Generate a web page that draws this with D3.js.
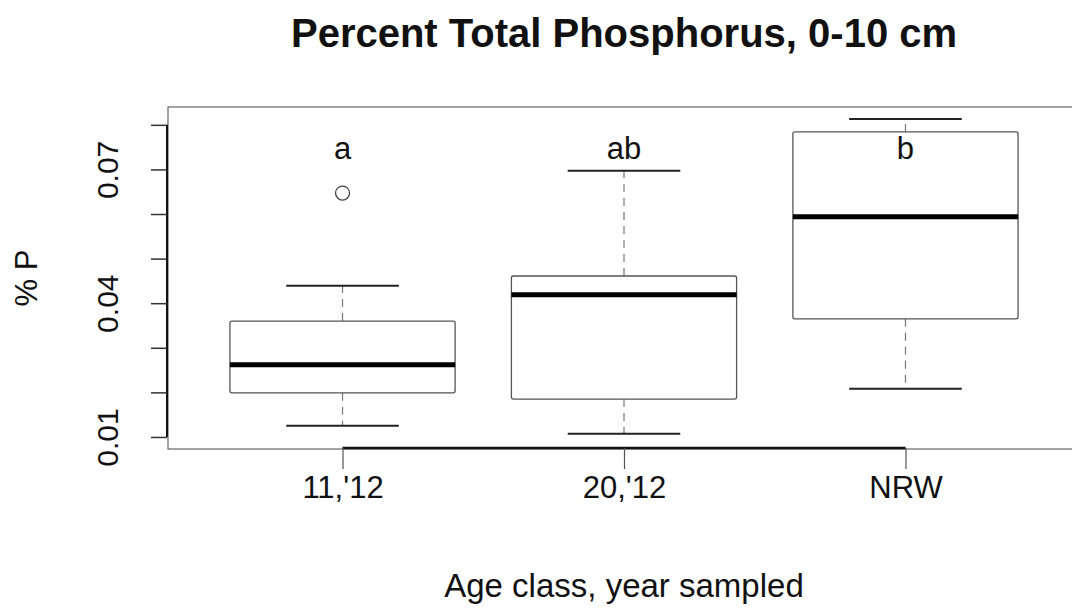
<!DOCTYPE html>
<html>
<head>
<meta charset="utf-8">
<script src="https://cdn.jsdelivr.net/npm/d3@7"></script>
<style>
  body { margin: 0; background: #fff; }
  text { font-family: "Liberation Sans", Arial, sans-serif; fill: #111; }
</style>
</head>
<body>
<svg id="chart" width="1072" height="615"></svg>
<script>
const groups = ["11,'12", "20,'12", "NRW"];
const lowWhisker = [0.0125, 0.0107, 0.0208];
const q1 = [0.0199, 0.0185, 0.0365];
const median = [0.0262, 0.0419, 0.0594];
const q3 = [0.036, 0.0461, 0.0784];
const highWhisker = [0.0439, 0.0697, 0.0813];
const outlierGroup = ["11,'12"];
const outlierValue = [0.0647];
const letters = ["a", "ab", "b"];
const yTicks = [0.01, 0.02, 0.03, 0.04, 0.05, 0.06, 0.07, 0.08];
const yTickLabels = [0.01, 0.04, 0.07];

const plot = { left: 168, right: 1080, top: 107, bottom: 449 };

const svg = d3.select("#chart");

// R style x range: 0.5..3.5 widened by 4%
const x = d3.scaleLinear().domain([0.38, 3.62]).range([plot.left, plot.right]);
const y = d3.scaleLinear().domain([0.0073, 0.084]).range([plot.bottom, plot.top]);

// boxwex 0.8, staple half of that
const boxW = x(1.8) - x(1);
const capW = boxW / 2;

const rows = groups.map((g, i) => ({
  name: g,
  pos: i + 1,
  lo: lowWhisker[i],
  q1: q1[i],
  med: median[i],
  q3: q3[i],
  hi: highWhisker[i],
  letter: letters[i],
}));

// plot frame
svg.append("rect")
  .attr("x", plot.left)
  .attr("y", plot.top)
  .attr("width", plot.right - plot.left)
  .attr("height", plot.bottom - plot.top)
  .attr("fill", "none")
  .attr("stroke", "#666")
  .attr("stroke-width", 1.2);

const g = svg.append("g");

rows.forEach((d) => {
  const cx = x(d.pos);
  // dashed whiskers
  g.append("line")
    .attr("x1", cx).attr("x2", cx)
    .attr("y1", y(d.q3)).attr("y2", y(d.hi))
    .attr("stroke", "#777").attr("stroke-width", 1.2)
    .attr("stroke-dasharray", "8,6");
  g.append("line")
    .attr("x1", cx).attr("x2", cx)
    .attr("y1", y(d.q1)).attr("y2", y(d.lo))
    .attr("stroke", "#777").attr("stroke-width", 1.2)
    .attr("stroke-dasharray", "8,6");
  // caps
  [d.lo, d.hi].forEach((v) => {
    g.append("line")
      .attr("x1", cx - capW / 2).attr("x2", cx + capW / 2)
      .attr("y1", y(v)).attr("y2", y(v))
      .attr("stroke", "#222").attr("stroke-width", 2);
  });
  // box
  g.append("rect")
    .attr("x", cx - boxW / 2)
    .attr("y", y(d.q3))
    .attr("width", boxW)
    .attr("height", y(d.q1) - y(d.q3))
    .attr("fill", "none")
    .attr("stroke", "#555")
    .attr("stroke-width", 1.3)
    .attr("rx", 2);
  // median
  g.append("line")
    .attr("x1", cx - boxW / 2).attr("x2", cx + boxW / 2)
    .attr("y1", y(d.med)).attr("y2", y(d.med))
    .attr("stroke", "#000").attr("stroke-width", 5);
  // significance letter
  g.append("text")
    .attr("x", cx)
    .attr("y", 159)
    .attr("text-anchor", "middle")
    .attr("font-size", 31)
    .text(d.letter);
});

outlierGroup.forEach((name, i) => {
  g.append("circle")
    .attr("cx", x(groups.indexOf(name) + 1))
    .attr("cy", y(outlierValue[i]))
    .attr("r", 7)
    .attr("fill", "none")
    .attr("stroke", "#444")
    .attr("stroke-width", 1.3);
});

// y axis
const yAxis = svg.append("g")
  .attr("transform", `translate(${plot.left - 1},0)`)
  .call(d3.axisLeft(y).tickValues(yTicks).tickSize(16).tickFormat(""));
yAxis.select(".domain")
  .attr("d", `M0,${y(d3.max(yTicks))}V${y(d3.min(yTicks))}`)
  .attr("stroke", "#111").attr("stroke-width", 2);
yAxis.selectAll(".tick line").attr("stroke", "#333").attr("stroke-width", 1.5);
yAxis.selectAll(".tick").filter((v) => yTickLabels.includes(v))
  .append("text")
  .attr("transform", "translate(-49,0) rotate(-90)")
  .attr("text-anchor", "middle")
  .attr("font-size", 30)
  .style("fill", "#111")
  .text((v) => d3.format(".2f")(v));

// x axis
const xAxis = svg.append("g")
  .attr("transform", `translate(0,${plot.bottom - 1})`)
  .call(d3.axisBottom(x).tickValues([1, 2, 3]).tickSize(21).tickFormat(""));
xAxis.select(".domain").attr("d", `M${x(1)},0H${x(3)}`)
  .attr("stroke", "#111").attr("stroke-width", 2.5);
xAxis.selectAll(".tick line").attr("stroke", "#555").attr("stroke-width", 1.2);
xAxis.selectAll(".tick")
  .append("text")
  .attr("y", 50)
  .attr("text-anchor", "middle")
  .attr("font-size", 31)
  .style("fill", "#111")
  .text((v) => groups[v - 1]);

// titles
const midX = (plot.left + plot.right) / 2;
svg.append("text")
  .attr("x", midX)
  .attr("y", 47)
  .attr("text-anchor", "middle")
  .attr("font-size", 40)
  .attr("font-weight", "bold")
  .text("Percent Total Phosphorus, 0-10 cm");

svg.append("text")
  .attr("x", midX)
  .attr("y", 597)
  .attr("text-anchor", "middle")
  .attr("font-size", 33)
  .text("Age class, year sampled");

svg.append("text")
  .attr("transform", `translate(37,${(plot.top + plot.bottom) / 2}) rotate(-90)`)
  .attr("text-anchor", "middle")
  .attr("font-size", 31)
  .text("% P");
</script>
</body>
</html>
